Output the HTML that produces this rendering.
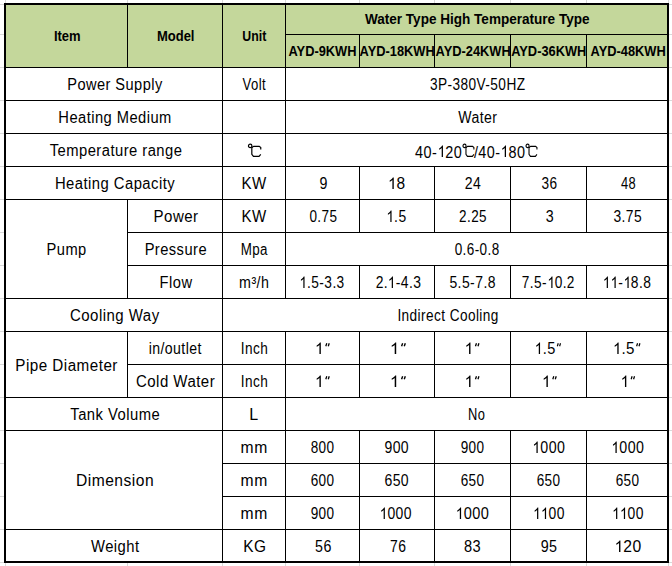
<!DOCTYPE html>
<html><head><meta charset="utf-8"><style>
html,body{margin:0;padding:0;background:#fff;}
body{width:672px;height:566px;position:relative;overflow:hidden;font-family:"Liberation Sans",sans-serif;color:#000;}
div{position:absolute;}
.c{display:flex;align-items:center;justify-content:center;white-space:nowrap;overflow:hidden;line-height:1;}
.c span{transform-origin:50% 50%;}
svg{fill:none;stroke:#000;overflow:visible;}
.dg{stroke-width:1.2;vertical-align:-0.5px;margin:0 -0.5px;}
.one{fill:#000;stroke:none;vertical-align:0;}
.in{stroke-width:1.3;vertical-align:0;margin-left:1px;}
</style></head><body>
<div style="left:4px;top:3px;width:665px;height:64px;background:#C4D79B"></div>
<div style="left:0px;top:4px;width:4px;height:1px;background:#D9D9D9"></div>
<div style="left:669px;top:4px;width:3px;height:1px;background:#D9D9D9"></div>
<div style="left:0px;top:34px;width:4px;height:1px;background:#D9D9D9"></div>
<div style="left:669px;top:34px;width:3px;height:1px;background:#D9D9D9"></div>
<div style="left:0px;top:67px;width:4px;height:1px;background:#D9D9D9"></div>
<div style="left:669px;top:67px;width:3px;height:1px;background:#D9D9D9"></div>
<div style="left:0px;top:100px;width:4px;height:1px;background:#D9D9D9"></div>
<div style="left:669px;top:100px;width:3px;height:1px;background:#D9D9D9"></div>
<div style="left:0px;top:133px;width:4px;height:1px;background:#D9D9D9"></div>
<div style="left:669px;top:133px;width:3px;height:1px;background:#D9D9D9"></div>
<div style="left:0px;top:166px;width:4px;height:1px;background:#D9D9D9"></div>
<div style="left:669px;top:166px;width:3px;height:1px;background:#D9D9D9"></div>
<div style="left:0px;top:199px;width:4px;height:1px;background:#D9D9D9"></div>
<div style="left:669px;top:199px;width:3px;height:1px;background:#D9D9D9"></div>
<div style="left:0px;top:232px;width:4px;height:1px;background:#D9D9D9"></div>
<div style="left:669px;top:232px;width:3px;height:1px;background:#D9D9D9"></div>
<div style="left:0px;top:265px;width:4px;height:1px;background:#D9D9D9"></div>
<div style="left:669px;top:265px;width:3px;height:1px;background:#D9D9D9"></div>
<div style="left:0px;top:298px;width:4px;height:1px;background:#D9D9D9"></div>
<div style="left:669px;top:298px;width:3px;height:1px;background:#D9D9D9"></div>
<div style="left:0px;top:331px;width:4px;height:1px;background:#D9D9D9"></div>
<div style="left:669px;top:331px;width:3px;height:1px;background:#D9D9D9"></div>
<div style="left:0px;top:364px;width:4px;height:1px;background:#D9D9D9"></div>
<div style="left:669px;top:364px;width:3px;height:1px;background:#D9D9D9"></div>
<div style="left:0px;top:397px;width:4px;height:1px;background:#D9D9D9"></div>
<div style="left:669px;top:397px;width:3px;height:1px;background:#D9D9D9"></div>
<div style="left:0px;top:430px;width:4px;height:1px;background:#D9D9D9"></div>
<div style="left:669px;top:430px;width:3px;height:1px;background:#D9D9D9"></div>
<div style="left:0px;top:463px;width:4px;height:1px;background:#D9D9D9"></div>
<div style="left:669px;top:463px;width:3px;height:1px;background:#D9D9D9"></div>
<div style="left:0px;top:496px;width:4px;height:1px;background:#D9D9D9"></div>
<div style="left:669px;top:496px;width:3px;height:1px;background:#D9D9D9"></div>
<div style="left:0px;top:529px;width:4px;height:1px;background:#D9D9D9"></div>
<div style="left:669px;top:529px;width:3px;height:1px;background:#D9D9D9"></div>
<div style="left:0px;top:562px;width:4px;height:1px;background:#D9D9D9"></div>
<div style="left:669px;top:562px;width:3px;height:1px;background:#D9D9D9"></div>
<div style="left:5px;top:0px;width:1px;height:3px;background:#D9D9D9"></div>
<div style="left:5px;top:563px;width:1px;height:3px;background:#D9D9D9"></div>
<div style="left:127px;top:0px;width:1px;height:3px;background:#D9D9D9"></div>
<div style="left:127px;top:563px;width:1px;height:3px;background:#D9D9D9"></div>
<div style="left:222px;top:0px;width:1px;height:3px;background:#D9D9D9"></div>
<div style="left:222px;top:563px;width:1px;height:3px;background:#D9D9D9"></div>
<div style="left:285px;top:0px;width:1px;height:3px;background:#D9D9D9"></div>
<div style="left:285px;top:563px;width:1px;height:3px;background:#D9D9D9"></div>
<div style="left:359px;top:0px;width:1px;height:3px;background:#D9D9D9"></div>
<div style="left:359px;top:563px;width:1px;height:3px;background:#D9D9D9"></div>
<div style="left:434px;top:0px;width:1px;height:3px;background:#D9D9D9"></div>
<div style="left:434px;top:563px;width:1px;height:3px;background:#D9D9D9"></div>
<div style="left:510px;top:0px;width:1px;height:3px;background:#D9D9D9"></div>
<div style="left:510px;top:563px;width:1px;height:3px;background:#D9D9D9"></div>
<div style="left:586px;top:0px;width:1px;height:3px;background:#D9D9D9"></div>
<div style="left:586px;top:563px;width:1px;height:3px;background:#D9D9D9"></div>
<div style="left:668px;top:0px;width:1px;height:3px;background:#D9D9D9"></div>
<div style="left:668px;top:563px;width:1px;height:3px;background:#D9D9D9"></div>
<div class="c" style="left:5px;top:4px;width:122px;height:63px;font-size:14.0px;font-weight:bold;"><span style="display:inline-block;transform:translate(0.85px,-0.50px) scaleX(0.9286)">Item</span></div>
<div class="c" style="left:128px;top:4px;width:94px;height:63px;font-size:14.0px;font-weight:bold;"><span style="display:inline-block;transform:translate(0.50px,-0.50px) scaleX(0.9275)">Model</span></div>
<div class="c" style="left:223px;top:4px;width:62px;height:63px;font-size:14.0px;font-weight:bold;"><span style="display:inline-block;transform:translate(0.65px,-0.50px) scaleX(0.8815)">Unit</span></div>
<div class="c" style="left:286px;top:4px;width:382px;height:30px;font-size:14.0px;font-weight:bold;"><span style="display:inline-block;transform:translate(0.20px,-0.50px) scaleX(0.9677)">Water Type High Temperature Type</span></div>
<div class="c" style="left:286px;top:35px;width:73px;height:32px;font-size:14.0px;font-weight:bold;"><span style="display:inline-block;transform:translate(0.40px,-0.50px) scaleX(0.9170)">AYD-9KWH</span></div>
<div class="c" style="left:360px;top:35px;width:74px;height:32px;font-size:14.0px;font-weight:bold;"><span style="display:inline-block;transform:translate(0.20px,-0.50px) scaleX(0.9170)">AYD-18KWH</span></div>
<div class="c" style="left:435px;top:35px;width:75px;height:32px;font-size:14.0px;font-weight:bold;"><span style="display:inline-block;transform:translate(0.20px,-0.50px) scaleX(0.9170)">AYD-24KWH</span></div>
<div class="c" style="left:511px;top:35px;width:75px;height:32px;font-size:14.0px;font-weight:bold;"><span style="display:inline-block;transform:translate(-0.20px,-0.50px) scaleX(0.9170)">AYD-36KWH</span></div>
<div class="c" style="left:587px;top:35px;width:81px;height:32px;font-size:14.0px;font-weight:bold;"><span style="display:inline-block;transform:translate(0.20px,-0.50px) scaleX(0.9170)">AYD-48KWH</span></div>
<div class="c" style="left:5px;top:68px;width:217px;height:32px;font-size:16.0px;letter-spacing:0.5px;"><span style="display:inline-block;transform:translate(1.60px,1.00px) scaleX(0.9117)">Power Supply</span></div>
<div class="c" style="left:223px;top:68px;width:62px;height:32px;font-size:16.0px;letter-spacing:0.5px;"><span style="display:inline-block;transform:translate(0.00px,1.00px) scaleX(0.8179)">Volt</span></div>
<div class="c" style="left:286px;top:68px;width:382px;height:32px;font-size:16.0px;letter-spacing:0.5px;"><span style="display:inline-block;transform:translate(0.80px,1.00px) scaleX(0.8536)">3P-380V-50HZ</span></div>
<div class="c" style="left:5px;top:101px;width:217px;height:32px;font-size:16.0px;letter-spacing:0.5px;"><span style="display:inline-block;transform:translate(1.30px,1.00px) scaleX(0.9182)">Heating Medium</span></div>
<div class="c" style="left:286px;top:101px;width:382px;height:32px;font-size:16.0px;letter-spacing:0.5px;"><span style="display:inline-block;transform:translate(0.50px,1.00px) scaleX(0.8795)">Water</span></div>
<div class="c" style="left:5px;top:134px;width:217px;height:32px;font-size:16.0px;letter-spacing:0.5px;"><span style="display:inline-block;transform:translate(2.20px,1.00px) scaleX(0.9232)">Temperature range</span></div>
<div class="c" style="left:223px;top:134px;width:62px;height:32px;font-size:16.0px;letter-spacing:0.5px;"><span style="display:inline-block;transform:translate(-0.65px,1.00px) scaleX(1.0154)"><svg class="dg" width="14" height="16" viewBox="0 0 14 16"><circle cx="2.9" cy="3.9" r="1.7"/><path d="M6 4.3 L4.5 5.8 V12.3 L6.1 14.3 H11.6 L13.3 12.3 M6 4.3 H11.8 L13.3 5.5 V7.4"/></svg></span></div>
<div class="c" style="left:286px;top:134px;width:382px;height:32px;font-size:16.0px;letter-spacing:0.5px;"><span style="display:inline-block;transform:translate(-0.65px,1.00px) scaleX(0.9007)">40-<svg class="one" width="8.9" height="12" viewBox="0 0 8.9 12"><path d="M5.96 12 H4.55 V3.04 Q4.05 3.52 3.22 4.01 Q2.39 4.49 1.73 4.73 V3.38 Q2.91 2.82 3.80 2.03 Q4.68 1.24 5.05 0.55 H5.96 Z"/></svg>20<svg class="dg" width="14" height="16" viewBox="0 0 14 16"><circle cx="2.9" cy="3.9" r="1.7"/><path d="M6 4.3 L4.5 5.8 V12.3 L6.1 14.3 H11.6 L13.3 12.3 M6 4.3 H11.8 L13.3 5.5 V7.4"/></svg>/40-<svg class="one" width="8.9" height="12" viewBox="0 0 8.9 12"><path d="M5.96 12 H4.55 V3.04 Q4.05 3.52 3.22 4.01 Q2.39 4.49 1.73 4.73 V3.38 Q2.91 2.82 3.80 2.03 Q4.68 1.24 5.05 0.55 H5.96 Z"/></svg>80<svg class="dg" width="14" height="16" viewBox="0 0 14 16"><circle cx="2.9" cy="3.9" r="1.7"/><path d="M6 4.3 L4.5 5.8 V12.3 L6.1 14.3 H11.6 L13.3 12.3 M6 4.3 H11.8 L13.3 5.5 V7.4"/></svg></span></div>
<div class="c" style="left:5px;top:167px;width:217px;height:32px;font-size:16.0px;letter-spacing:0.5px;"><span style="display:inline-block;transform:translate(1.10px,1.00px) scaleX(0.9258)">Heating Capacity</span></div>
<div class="c" style="left:223px;top:167px;width:62px;height:32px;font-size:16.0px;letter-spacing:0.5px;"><span style="display:inline-block;transform:translate(-0.20px,1.00px) scaleX(0.9400)">KW</span></div>
<div class="c" style="left:286px;top:167px;width:73px;height:32px;font-size:16.0px;letter-spacing:0.5px;"><span style="display:inline-block;transform:translate(1.00px,1.00px) scaleX(0.8900)">9</span></div>
<div class="c" style="left:360px;top:167px;width:74px;height:32px;font-size:16.0px;letter-spacing:0.5px;"><span style="display:inline-block;transform:translate(-0.30px,1.00px) scaleX(0.9667)"><svg class="one" width="8.9" height="12" viewBox="0 0 8.9 12"><path d="M5.96 12 H4.55 V3.04 Q4.05 3.52 3.22 4.01 Q2.39 4.49 1.73 4.73 V3.38 Q2.91 2.82 3.80 2.03 Q4.68 1.24 5.05 0.55 H5.96 Z"/></svg>8</span></div>
<div class="c" style="left:435px;top:167px;width:75px;height:32px;font-size:16.0px;letter-spacing:0.5px;"><span style="display:inline-block;transform:translate(0.50px,1.00px) scaleX(0.8765)">24</span></div>
<div class="c" style="left:511px;top:167px;width:75px;height:32px;font-size:16.0px;letter-spacing:0.5px;"><span style="display:inline-block;transform:translate(1.00px,1.00px) scaleX(0.8529)">36</span></div>
<div class="c" style="left:587px;top:167px;width:81px;height:32px;font-size:16.0px;letter-spacing:0.5px;"><span style="display:inline-block;transform:translate(1.20px,1.00px) scaleX(0.8056)">48</span></div>
<div class="c" style="left:5px;top:200px;width:122px;height:98px;font-size:16.0px;letter-spacing:0.5px;"><span style="display:inline-block;transform:translate(0.70px,1.00px) scaleX(0.9167)">Pump</span></div>
<div class="c" style="left:128px;top:200px;width:94px;height:32px;font-size:16.0px;letter-spacing:0.5px;"><span style="display:inline-block;transform:translate(1.15px,1.00px) scaleX(0.9391)">Power</span></div>
<div class="c" style="left:223px;top:200px;width:62px;height:32px;font-size:16.0px;letter-spacing:0.5px;"><span style="display:inline-block;transform:translate(-0.20px,1.00px) scaleX(0.9400)">KW</span></div>
<div class="c" style="left:286px;top:200px;width:73px;height:32px;font-size:16.0px;letter-spacing:0.5px;"><span style="display:inline-block;transform:translate(0.85px,1.00px) scaleX(0.8452)">0.75</span></div>
<div class="c" style="left:360px;top:200px;width:74px;height:32px;font-size:16.0px;letter-spacing:0.5px;"><span style="display:inline-block;transform:translate(-0.15px,1.00px) scaleX(0.8667)"><svg class="one" width="8.9" height="12" viewBox="0 0 8.9 12"><path d="M5.96 12 H4.55 V3.04 Q4.05 3.52 3.22 4.01 Q2.39 4.49 1.73 4.73 V3.38 Q2.91 2.82 3.80 2.03 Q4.68 1.24 5.05 0.55 H5.96 Z"/></svg>.5</span></div>
<div class="c" style="left:435px;top:200px;width:75px;height:32px;font-size:16.0px;letter-spacing:0.5px;"><span style="display:inline-block;transform:translate(0.50px,1.00px) scaleX(0.8419)">2.25</span></div>
<div class="c" style="left:511px;top:200px;width:75px;height:32px;font-size:16.0px;letter-spacing:0.5px;"><span style="display:inline-block;transform:translate(1.15px,1.00px) scaleX(0.8900)">3</span></div>
<div class="c" style="left:587px;top:200px;width:81px;height:32px;font-size:16.0px;letter-spacing:0.5px;"><span style="display:inline-block;transform:translate(0.15px,1.00px) scaleX(0.8645)">3.75</span></div>
<div class="c" style="left:128px;top:233px;width:94px;height:32px;font-size:16.0px;letter-spacing:0.5px;"><span style="display:inline-block;transform:translate(0.80px,1.00px) scaleX(0.9167)">Pressure</span></div>
<div class="c" style="left:223px;top:233px;width:62px;height:32px;font-size:16.0px;letter-spacing:0.5px;"><span style="display:inline-block;transform:translate(0.00px,1.00px) scaleX(0.8355)">Mpa</span></div>
<div class="c" style="left:286px;top:233px;width:382px;height:32px;font-size:16.0px;letter-spacing:0.5px;"><span style="display:inline-block;transform:translate(0.50px,1.00px) scaleX(0.8442)">0.6-0.8</span></div>
<div class="c" style="left:128px;top:266px;width:94px;height:32px;font-size:16.0px;letter-spacing:0.5px;"><span style="display:inline-block;transform:translate(1.15px,1.00px) scaleX(0.9176)">Flow</span></div>
<div class="c" style="left:223px;top:266px;width:62px;height:32px;font-size:16.0px;letter-spacing:0.5px;"><span style="display:inline-block;transform:translate(0.20px,1.00px) scaleX(0.8906)">m³/h</span></div>
<div class="c" style="left:286px;top:266px;width:73px;height:32px;font-size:16.0px;letter-spacing:0.5px;"><span style="display:inline-block;transform:translate(-0.35px,1.00px) scaleX(0.8560)"><svg class="one" width="8.9" height="12" viewBox="0 0 8.9 12"><path d="M5.96 12 H4.55 V3.04 Q4.05 3.52 3.22 4.01 Q2.39 4.49 1.73 4.73 V3.38 Q2.91 2.82 3.80 2.03 Q4.68 1.24 5.05 0.55 H5.96 Z"/></svg>.5-3.3</span></div>
<div class="c" style="left:360px;top:266px;width:74px;height:32px;font-size:16.0px;letter-spacing:0.5px;"><span style="display:inline-block;transform:translate(1.15px,1.00px) scaleX(0.8667)">2.<svg class="one" width="8.9" height="12" viewBox="0 0 8.9 12"><path d="M5.96 12 H4.55 V3.04 Q4.05 3.52 3.22 4.01 Q2.39 4.49 1.73 4.73 V3.38 Q2.91 2.82 3.80 2.03 Q4.68 1.24 5.05 0.55 H5.96 Z"/></svg>-4.3</span></div>
<div class="c" style="left:435px;top:266px;width:75px;height:32px;font-size:16.0px;letter-spacing:0.5px;"><span style="display:inline-block;transform:translate(0.00px,1.00px) scaleX(0.8725)">5.5-7.8</span></div>
<div class="c" style="left:511px;top:266px;width:75px;height:32px;font-size:16.0px;letter-spacing:0.5px;"><span style="display:inline-block;transform:translate(0.25px,1.00px) scaleX(0.8525)">7.5-<svg class="one" width="8.9" height="12" viewBox="0 0 8.9 12"><path d="M5.96 12 H4.55 V3.04 Q4.05 3.52 3.22 4.01 Q2.39 4.49 1.73 4.73 V3.38 Q2.91 2.82 3.80 2.03 Q4.68 1.24 5.05 0.55 H5.96 Z"/></svg>0.2</span></div>
<div class="c" style="left:587px;top:266px;width:81px;height:32px;font-size:16.0px;letter-spacing:0.5px;"><span style="display:inline-block;transform:translate(-0.05px,1.00px) scaleX(0.8630)"><svg class="one" width="8.9" height="12" viewBox="0 0 8.9 12"><path d="M5.96 12 H4.55 V3.04 Q4.05 3.52 3.22 4.01 Q2.39 4.49 1.73 4.73 V3.38 Q2.91 2.82 3.80 2.03 Q4.68 1.24 5.05 0.55 H5.96 Z"/></svg><svg class="one" width="8.9" height="12" viewBox="0 0 8.9 12"><path d="M5.96 12 H4.55 V3.04 Q4.05 3.52 3.22 4.01 Q2.39 4.49 1.73 4.73 V3.38 Q2.91 2.82 3.80 2.03 Q4.68 1.24 5.05 0.55 H5.96 Z"/></svg>-<svg class="one" width="8.9" height="12" viewBox="0 0 8.9 12"><path d="M5.96 12 H4.55 V3.04 Q4.05 3.52 3.22 4.01 Q2.39 4.49 1.73 4.73 V3.38 Q2.91 2.82 3.80 2.03 Q4.68 1.24 5.05 0.55 H5.96 Z"/></svg>8.8</span></div>
<div class="c" style="left:5px;top:299px;width:217px;height:32px;font-size:16.0px;letter-spacing:0.5px;"><span style="display:inline-block;transform:translate(1.00px,1.00px) scaleX(0.9372)">Cooling Way</span></div>
<div class="c" style="left:223px;top:299px;width:445px;height:32px;font-size:16.0px;letter-spacing:0.5px;"><span style="display:inline-block;transform:translate(2.50px,1.00px) scaleX(0.8504)">Indirect Cooling</span></div>
<div class="c" style="left:5px;top:332px;width:122px;height:65px;font-size:16.0px;letter-spacing:0.5px;"><span style="display:inline-block;transform:translate(0.65px,1.00px) scaleX(0.9509)">Pipe Diameter</span></div>
<div class="c" style="left:128px;top:332px;width:94px;height:32px;font-size:16.0px;letter-spacing:0.5px;"><span style="display:inline-block;transform:translate(0.00px,1.00px) scaleX(0.8797)">in/outlet</span></div>
<div class="c" style="left:223px;top:332px;width:62px;height:32px;font-size:16.0px;letter-spacing:0.5px;"><span style="display:inline-block;transform:translate(0.30px,1.00px) scaleX(0.8500)">Inch</span></div>
<div class="c" style="left:286px;top:332px;width:73px;height:32px;font-size:16.0px;letter-spacing:0.5px;"><span style="display:inline-block;transform:translate(-0.15px,1.00px) scaleX(0.9846)"><svg class="one" width="8.9" height="12" viewBox="0 0 8.9 12"><path d="M5.96 12 H4.55 V3.04 Q4.05 3.52 3.22 4.01 Q2.39 4.49 1.73 4.73 V3.38 Q2.91 2.82 3.80 2.03 Q4.68 1.24 5.05 0.55 H5.96 Z"/></svg><svg class="in" width="5" height="11" viewBox="0 0 5 11"><path d="M2 0.3 L1 3.3 M4.5 0.3 L3.5 3.3"/></svg></span></div>
<div class="c" style="left:360px;top:332px;width:74px;height:32px;font-size:16.0px;letter-spacing:0.5px;"><span style="display:inline-block;transform:translate(0.35px,1.00px) scaleX(1.0667)"><svg class="one" width="8.9" height="12" viewBox="0 0 8.9 12"><path d="M5.96 12 H4.55 V3.04 Q4.05 3.52 3.22 4.01 Q2.39 4.49 1.73 4.73 V3.38 Q2.91 2.82 3.80 2.03 Q4.68 1.24 5.05 0.55 H5.96 Z"/></svg><svg class="in" width="5" height="11" viewBox="0 0 5 11"><path d="M2 0.3 L1 3.3 M4.5 0.3 L3.5 3.3"/></svg></span></div>
<div class="c" style="left:435px;top:332px;width:75px;height:32px;font-size:16.0px;letter-spacing:0.5px;"><span style="display:inline-block;transform:translate(-0.50px,1.00px) scaleX(0.9923)"><svg class="one" width="8.9" height="12" viewBox="0 0 8.9 12"><path d="M5.96 12 H4.55 V3.04 Q4.05 3.52 3.22 4.01 Q2.39 4.49 1.73 4.73 V3.38 Q2.91 2.82 3.80 2.03 Q4.68 1.24 5.05 0.55 H5.96 Z"/></svg><svg class="in" width="5" height="11" viewBox="0 0 5 11"><path d="M2 0.3 L1 3.3 M4.5 0.3 L3.5 3.3"/></svg></span></div>
<div class="c" style="left:511px;top:332px;width:75px;height:32px;font-size:16.0px;letter-spacing:0.5px;"><span style="display:inline-block;transform:translate(-0.70px,1.00px) scaleX(0.9074)"><svg class="one" width="8.9" height="12" viewBox="0 0 8.9 12"><path d="M5.96 12 H4.55 V3.04 Q4.05 3.52 3.22 4.01 Q2.39 4.49 1.73 4.73 V3.38 Q2.91 2.82 3.80 2.03 Q4.68 1.24 5.05 0.55 H5.96 Z"/></svg>.5<svg class="in" width="5" height="11" viewBox="0 0 5 11"><path d="M2 0.3 L1 3.3 M4.5 0.3 L3.5 3.3"/></svg></span></div>
<div class="c" style="left:587px;top:332px;width:81px;height:32px;font-size:16.0px;letter-spacing:0.5px;"><span style="display:inline-block;transform:translate(-0.80px,1.00px) scaleX(0.9444)"><svg class="one" width="8.9" height="12" viewBox="0 0 8.9 12"><path d="M5.96 12 H4.55 V3.04 Q4.05 3.52 3.22 4.01 Q2.39 4.49 1.73 4.73 V3.38 Q2.91 2.82 3.80 2.03 Q4.68 1.24 5.05 0.55 H5.96 Z"/></svg>.5<svg class="in" width="5" height="11" viewBox="0 0 5 11"><path d="M2 0.3 L1 3.3 M4.5 0.3 L3.5 3.3"/></svg></span></div>
<div class="c" style="left:128px;top:365px;width:94px;height:32px;font-size:16.0px;letter-spacing:0.5px;"><span style="display:inline-block;transform:translate(0.35px,1.00px) scaleX(0.9373)">Cold Water</span></div>
<div class="c" style="left:223px;top:365px;width:62px;height:32px;font-size:16.0px;letter-spacing:0.5px;"><span style="display:inline-block;transform:translate(0.30px,1.00px) scaleX(0.8500)">Inch</span></div>
<div class="c" style="left:286px;top:365px;width:73px;height:32px;font-size:16.0px;letter-spacing:0.5px;"><span style="display:inline-block;transform:translate(-0.15px,1.00px) scaleX(0.9846)"><svg class="one" width="8.9" height="12" viewBox="0 0 8.9 12"><path d="M5.96 12 H4.55 V3.04 Q4.05 3.52 3.22 4.01 Q2.39 4.49 1.73 4.73 V3.38 Q2.91 2.82 3.80 2.03 Q4.68 1.24 5.05 0.55 H5.96 Z"/></svg><svg class="in" width="5" height="11" viewBox="0 0 5 11"><path d="M2 0.3 L1 3.3 M4.5 0.3 L3.5 3.3"/></svg></span></div>
<div class="c" style="left:360px;top:365px;width:74px;height:32px;font-size:16.0px;letter-spacing:0.5px;"><span style="display:inline-block;transform:translate(0.35px,1.00px) scaleX(1.0667)"><svg class="one" width="8.9" height="12" viewBox="0 0 8.9 12"><path d="M5.96 12 H4.55 V3.04 Q4.05 3.52 3.22 4.01 Q2.39 4.49 1.73 4.73 V3.38 Q2.91 2.82 3.80 2.03 Q4.68 1.24 5.05 0.55 H5.96 Z"/></svg><svg class="in" width="5" height="11" viewBox="0 0 5 11"><path d="M2 0.3 L1 3.3 M4.5 0.3 L3.5 3.3"/></svg></span></div>
<div class="c" style="left:435px;top:365px;width:75px;height:32px;font-size:16.0px;letter-spacing:0.5px;"><span style="display:inline-block;transform:translate(-0.50px,1.00px) scaleX(0.9923)"><svg class="one" width="8.9" height="12" viewBox="0 0 8.9 12"><path d="M5.96 12 H4.55 V3.04 Q4.05 3.52 3.22 4.01 Q2.39 4.49 1.73 4.73 V3.38 Q2.91 2.82 3.80 2.03 Q4.68 1.24 5.05 0.55 H5.96 Z"/></svg><svg class="in" width="5" height="11" viewBox="0 0 5 11"><path d="M2 0.3 L1 3.3 M4.5 0.3 L3.5 3.3"/></svg></span></div>
<div class="c" style="left:511px;top:365px;width:75px;height:32px;font-size:16.0px;letter-spacing:0.5px;"><span style="display:inline-block;transform:translate(0.85px,1.00px) scaleX(0.9846)"><svg class="one" width="8.9" height="12" viewBox="0 0 8.9 12"><path d="M5.96 12 H4.55 V3.04 Q4.05 3.52 3.22 4.01 Q2.39 4.49 1.73 4.73 V3.38 Q2.91 2.82 3.80 2.03 Q4.68 1.24 5.05 0.55 H5.96 Z"/></svg><svg class="in" width="5" height="11" viewBox="0 0 5 11"><path d="M2 0.3 L1 3.3 M4.5 0.3 L3.5 3.3"/></svg></span></div>
<div class="c" style="left:587px;top:365px;width:81px;height:32px;font-size:16.0px;letter-spacing:0.5px;"><span style="display:inline-block;transform:translate(0.30px,1.00px) scaleX(0.9615)"><svg class="one" width="8.9" height="12" viewBox="0 0 8.9 12"><path d="M5.96 12 H4.55 V3.04 Q4.05 3.52 3.22 4.01 Q2.39 4.49 1.73 4.73 V3.38 Q2.91 2.82 3.80 2.03 Q4.68 1.24 5.05 0.55 H5.96 Z"/></svg><svg class="in" width="5" height="11" viewBox="0 0 5 11"><path d="M2 0.3 L1 3.3 M4.5 0.3 L3.5 3.3"/></svg></span></div>
<div class="c" style="left:5px;top:398px;width:217px;height:32px;font-size:16.0px;letter-spacing:0.5px;"><span style="display:inline-block;transform:translate(1.65px,1.00px) scaleX(0.9250)">Tank Volume</span></div>
<div class="c" style="left:223px;top:398px;width:62px;height:32px;font-size:16.0px;letter-spacing:0.5px;"><span style="display:inline-block;transform:translate(0.00px,1.00px) scaleX(1.0000)">L</span></div>
<div class="c" style="left:286px;top:398px;width:382px;height:32px;font-size:16.0px;letter-spacing:0.5px;"><span style="display:inline-block;transform:translate(0.00px,1.00px) scaleX(0.8050)">No</span></div>
<div class="c" style="left:5px;top:431px;width:217px;height:98px;font-size:16.0px;letter-spacing:0.5px;"><span style="display:inline-block;transform:translate(2.00px,1.00px) scaleX(0.9753)">Dimension</span></div>
<div class="c" style="left:223px;top:431px;width:62px;height:32px;font-size:16.0px;letter-spacing:0.5px;"><span style="display:inline-block;transform:translate(0.30px,1.00px) scaleX(0.9808)">mm</span></div>
<div class="c" style="left:286px;top:431px;width:73px;height:32px;font-size:16.0px;letter-spacing:0.5px;"><span style="display:inline-block;transform:translate(0.50px,1.00px) scaleX(0.8481)">800</span></div>
<div class="c" style="left:360px;top:431px;width:74px;height:32px;font-size:16.0px;letter-spacing:0.5px;"><span style="display:inline-block;transform:translate(-0.35px,1.00px) scaleX(0.8769)">900</span></div>
<div class="c" style="left:435px;top:431px;width:75px;height:32px;font-size:16.0px;letter-spacing:0.5px;"><span style="display:inline-block;transform:translate(0.50px,1.00px) scaleX(0.8481)">900</span></div>
<div class="c" style="left:511px;top:431px;width:75px;height:32px;font-size:16.0px;letter-spacing:0.5px;"><span style="display:inline-block;transform:translate(0.35px,1.00px) scaleX(0.8882)"><svg class="one" width="8.9" height="12" viewBox="0 0 8.9 12"><path d="M5.96 12 H4.55 V3.04 Q4.05 3.52 3.22 4.01 Q2.39 4.49 1.73 4.73 V3.38 Q2.91 2.82 3.80 2.03 Q4.68 1.24 5.05 0.55 H5.96 Z"/></svg>000</span></div>
<div class="c" style="left:587px;top:431px;width:81px;height:32px;font-size:16.0px;letter-spacing:0.5px;"><span style="display:inline-block;transform:translate(0.35px,1.00px) scaleX(0.8882)"><svg class="one" width="8.9" height="12" viewBox="0 0 8.9 12"><path d="M5.96 12 H4.55 V3.04 Q4.05 3.52 3.22 4.01 Q2.39 4.49 1.73 4.73 V3.38 Q2.91 2.82 3.80 2.03 Q4.68 1.24 5.05 0.55 H5.96 Z"/></svg>000</span></div>
<div class="c" style="left:223px;top:464px;width:62px;height:32px;font-size:16.0px;letter-spacing:0.5px;"><span style="display:inline-block;transform:translate(0.30px,1.00px) scaleX(0.9808)">mm</span></div>
<div class="c" style="left:286px;top:464px;width:73px;height:32px;font-size:16.0px;letter-spacing:0.5px;"><span style="display:inline-block;transform:translate(0.50px,1.00px) scaleX(0.8481)">600</span></div>
<div class="c" style="left:360px;top:464px;width:74px;height:32px;font-size:16.0px;letter-spacing:0.5px;"><span style="display:inline-block;transform:translate(-0.35px,1.00px) scaleX(0.8769)">650</span></div>
<div class="c" style="left:435px;top:464px;width:75px;height:32px;font-size:16.0px;letter-spacing:0.5px;"><span style="display:inline-block;transform:translate(0.50px,1.00px) scaleX(0.8481)">650</span></div>
<div class="c" style="left:511px;top:464px;width:75px;height:32px;font-size:16.0px;letter-spacing:0.5px;"><span style="display:inline-block;transform:translate(0.50px,1.00px) scaleX(0.8481)">650</span></div>
<div class="c" style="left:587px;top:464px;width:81px;height:32px;font-size:16.0px;letter-spacing:0.5px;"><span style="display:inline-block;transform:translate(0.50px,1.00px) scaleX(0.8481)">650</span></div>
<div class="c" style="left:223px;top:497px;width:62px;height:32px;font-size:16.0px;letter-spacing:0.5px;"><span style="display:inline-block;transform:translate(0.30px,1.00px) scaleX(0.9808)">mm</span></div>
<div class="c" style="left:286px;top:497px;width:73px;height:32px;font-size:16.0px;letter-spacing:0.5px;"><span style="display:inline-block;transform:translate(0.50px,1.00px) scaleX(0.8481)">900</span></div>
<div class="c" style="left:360px;top:497px;width:74px;height:32px;font-size:16.0px;letter-spacing:0.5px;"><span style="display:inline-block;transform:translate(-0.70px,1.00px) scaleX(0.8714)"><svg class="one" width="8.9" height="12" viewBox="0 0 8.9 12"><path d="M5.96 12 H4.55 V3.04 Q4.05 3.52 3.22 4.01 Q2.39 4.49 1.73 4.73 V3.38 Q2.91 2.82 3.80 2.03 Q4.68 1.24 5.05 0.55 H5.96 Z"/></svg>000</span></div>
<div class="c" style="left:435px;top:497px;width:75px;height:32px;font-size:16.0px;letter-spacing:0.5px;"><span style="display:inline-block;transform:translate(0.00px,1.00px) scaleX(0.9088)"><svg class="one" width="8.9" height="12" viewBox="0 0 8.9 12"><path d="M5.96 12 H4.55 V3.04 Q4.05 3.52 3.22 4.01 Q2.39 4.49 1.73 4.73 V3.38 Q2.91 2.82 3.80 2.03 Q4.68 1.24 5.05 0.55 H5.96 Z"/></svg>000</span></div>
<div class="c" style="left:511px;top:497px;width:75px;height:32px;font-size:16.0px;letter-spacing:0.5px;"><span style="display:inline-block;transform:translate(0.70px,1.00px) scaleX(0.8676)"><svg class="one" width="8.9" height="12" viewBox="0 0 8.9 12"><path d="M5.96 12 H4.55 V3.04 Q4.05 3.52 3.22 4.01 Q2.39 4.49 1.73 4.73 V3.38 Q2.91 2.82 3.80 2.03 Q4.68 1.24 5.05 0.55 H5.96 Z"/></svg><svg class="one" width="8.9" height="12" viewBox="0 0 8.9 12"><path d="M5.96 12 H4.55 V3.04 Q4.05 3.52 3.22 4.01 Q2.39 4.49 1.73 4.73 V3.38 Q2.91 2.82 3.80 2.03 Q4.68 1.24 5.05 0.55 H5.96 Z"/></svg>00</span></div>
<div class="c" style="left:587px;top:497px;width:81px;height:32px;font-size:16.0px;letter-spacing:0.5px;"><span style="display:inline-block;transform:translate(0.70px,1.00px) scaleX(0.8676)"><svg class="one" width="8.9" height="12" viewBox="0 0 8.9 12"><path d="M5.96 12 H4.55 V3.04 Q4.05 3.52 3.22 4.01 Q2.39 4.49 1.73 4.73 V3.38 Q2.91 2.82 3.80 2.03 Q4.68 1.24 5.05 0.55 H5.96 Z"/></svg><svg class="one" width="8.9" height="12" viewBox="0 0 8.9 12"><path d="M5.96 12 H4.55 V3.04 Q4.05 3.52 3.22 4.01 Q2.39 4.49 1.73 4.73 V3.38 Q2.91 2.82 3.80 2.03 Q4.68 1.24 5.05 0.55 H5.96 Z"/></svg>00</span></div>
<div class="c" style="left:5px;top:530px;width:217px;height:32px;font-size:16.0px;letter-spacing:0.5px;"><span style="display:inline-block;transform:translate(2.00px,1.00px) scaleX(0.9250)">Weight</span></div>
<div class="c" style="left:223px;top:530px;width:62px;height:32px;font-size:16.0px;letter-spacing:0.5px;"><span style="display:inline-block;transform:translate(0.85px,1.00px) scaleX(0.9619)">KG</span></div>
<div class="c" style="left:286px;top:530px;width:73px;height:32px;font-size:16.0px;letter-spacing:0.5px;"><span style="display:inline-block;transform:translate(1.00px,1.00px) scaleX(0.8882)">56</span></div>
<div class="c" style="left:360px;top:530px;width:74px;height:32px;font-size:16.0px;letter-spacing:0.5px;"><span style="display:inline-block;transform:translate(0.85px,1.00px) scaleX(0.8706)">76</span></div>
<div class="c" style="left:435px;top:530px;width:75px;height:32px;font-size:16.0px;letter-spacing:0.5px;"><span style="display:inline-block;transform:translate(0.20px,1.00px) scaleX(0.9118)">83</span></div>
<div class="c" style="left:511px;top:530px;width:75px;height:32px;font-size:16.0px;letter-spacing:0.5px;"><span style="display:inline-block;transform:translate(0.65px,1.00px) scaleX(0.8941)">95</span></div>
<div class="c" style="left:587px;top:530px;width:81px;height:32px;font-size:16.0px;letter-spacing:0.5px;"><span style="display:inline-block;transform:translate(0.30px,1.00px) scaleX(0.9792)"><svg class="one" width="8.9" height="12" viewBox="0 0 8.9 12"><path d="M5.96 12 H4.55 V3.04 Q4.05 3.52 3.22 4.01 Q2.39 4.49 1.73 4.73 V3.38 Q2.91 2.82 3.80 2.03 Q4.68 1.24 5.05 0.55 H5.96 Z"/></svg>20</span></div>
<div style="left:4px;top:3px;width:124px;height:1px;background:#000"></div>
<div style="left:4px;top:67px;width:124px;height:1px;background:#000"></div>
<div style="left:4px;top:3px;width:1px;height:65px;background:#000"></div>
<div style="left:127px;top:3px;width:1px;height:65px;background:#000"></div>
<div style="left:127px;top:3px;width:96px;height:1px;background:#000"></div>
<div style="left:127px;top:67px;width:96px;height:1px;background:#000"></div>
<div style="left:127px;top:3px;width:1px;height:65px;background:#000"></div>
<div style="left:222px;top:3px;width:1px;height:65px;background:#000"></div>
<div style="left:222px;top:3px;width:64px;height:1px;background:#000"></div>
<div style="left:222px;top:67px;width:64px;height:1px;background:#000"></div>
<div style="left:222px;top:3px;width:1px;height:65px;background:#000"></div>
<div style="left:285px;top:3px;width:1px;height:65px;background:#000"></div>
<div style="left:285px;top:3px;width:384px;height:1px;background:#000"></div>
<div style="left:285px;top:34px;width:384px;height:1px;background:#000"></div>
<div style="left:285px;top:3px;width:1px;height:32px;background:#000"></div>
<div style="left:668px;top:3px;width:1px;height:32px;background:#000"></div>
<div style="left:285px;top:34px;width:75px;height:1px;background:#000"></div>
<div style="left:285px;top:67px;width:75px;height:1px;background:#000"></div>
<div style="left:285px;top:34px;width:1px;height:34px;background:#000"></div>
<div style="left:359px;top:34px;width:1px;height:34px;background:#000"></div>
<div style="left:359px;top:34px;width:76px;height:1px;background:#000"></div>
<div style="left:359px;top:67px;width:76px;height:1px;background:#000"></div>
<div style="left:359px;top:34px;width:1px;height:34px;background:#000"></div>
<div style="left:434px;top:34px;width:1px;height:34px;background:#000"></div>
<div style="left:434px;top:34px;width:77px;height:1px;background:#000"></div>
<div style="left:434px;top:67px;width:77px;height:1px;background:#000"></div>
<div style="left:434px;top:34px;width:1px;height:34px;background:#000"></div>
<div style="left:510px;top:34px;width:1px;height:34px;background:#000"></div>
<div style="left:510px;top:34px;width:77px;height:1px;background:#000"></div>
<div style="left:510px;top:67px;width:77px;height:1px;background:#000"></div>
<div style="left:510px;top:34px;width:1px;height:34px;background:#000"></div>
<div style="left:586px;top:34px;width:1px;height:34px;background:#000"></div>
<div style="left:586px;top:34px;width:83px;height:1px;background:#000"></div>
<div style="left:586px;top:67px;width:83px;height:1px;background:#000"></div>
<div style="left:586px;top:34px;width:1px;height:34px;background:#000"></div>
<div style="left:668px;top:34px;width:1px;height:34px;background:#000"></div>
<div style="left:4px;top:67px;width:219px;height:1px;background:#000"></div>
<div style="left:4px;top:100px;width:219px;height:1px;background:#000"></div>
<div style="left:4px;top:67px;width:1px;height:34px;background:#000"></div>
<div style="left:222px;top:67px;width:1px;height:34px;background:#000"></div>
<div style="left:222px;top:67px;width:64px;height:1px;background:#000"></div>
<div style="left:222px;top:100px;width:64px;height:1px;background:#000"></div>
<div style="left:222px;top:67px;width:1px;height:34px;background:#000"></div>
<div style="left:285px;top:67px;width:1px;height:34px;background:#000"></div>
<div style="left:285px;top:67px;width:384px;height:1px;background:#000"></div>
<div style="left:285px;top:100px;width:384px;height:1px;background:#000"></div>
<div style="left:285px;top:67px;width:1px;height:34px;background:#000"></div>
<div style="left:668px;top:67px;width:1px;height:34px;background:#000"></div>
<div style="left:4px;top:100px;width:219px;height:1px;background:#000"></div>
<div style="left:4px;top:133px;width:219px;height:1px;background:#000"></div>
<div style="left:4px;top:100px;width:1px;height:34px;background:#000"></div>
<div style="left:222px;top:100px;width:1px;height:34px;background:#000"></div>
<div style="left:222px;top:100px;width:64px;height:1px;background:#000"></div>
<div style="left:222px;top:133px;width:64px;height:1px;background:#000"></div>
<div style="left:222px;top:100px;width:1px;height:34px;background:#000"></div>
<div style="left:285px;top:100px;width:1px;height:34px;background:#000"></div>
<div style="left:285px;top:100px;width:384px;height:1px;background:#000"></div>
<div style="left:285px;top:133px;width:384px;height:1px;background:#000"></div>
<div style="left:285px;top:100px;width:1px;height:34px;background:#000"></div>
<div style="left:668px;top:100px;width:1px;height:34px;background:#000"></div>
<div style="left:4px;top:133px;width:219px;height:1px;background:#000"></div>
<div style="left:4px;top:166px;width:219px;height:1px;background:#000"></div>
<div style="left:4px;top:133px;width:1px;height:34px;background:#000"></div>
<div style="left:222px;top:133px;width:1px;height:34px;background:#000"></div>
<div style="left:222px;top:133px;width:64px;height:1px;background:#000"></div>
<div style="left:222px;top:166px;width:64px;height:1px;background:#000"></div>
<div style="left:222px;top:133px;width:1px;height:34px;background:#000"></div>
<div style="left:285px;top:133px;width:1px;height:34px;background:#000"></div>
<div style="left:285px;top:133px;width:384px;height:1px;background:#000"></div>
<div style="left:285px;top:166px;width:384px;height:1px;background:#000"></div>
<div style="left:285px;top:133px;width:1px;height:34px;background:#000"></div>
<div style="left:668px;top:133px;width:1px;height:34px;background:#000"></div>
<div style="left:4px;top:166px;width:219px;height:1px;background:#000"></div>
<div style="left:4px;top:199px;width:219px;height:1px;background:#000"></div>
<div style="left:4px;top:166px;width:1px;height:34px;background:#000"></div>
<div style="left:222px;top:166px;width:1px;height:34px;background:#000"></div>
<div style="left:222px;top:166px;width:64px;height:1px;background:#000"></div>
<div style="left:222px;top:199px;width:64px;height:1px;background:#000"></div>
<div style="left:222px;top:166px;width:1px;height:34px;background:#000"></div>
<div style="left:285px;top:166px;width:1px;height:34px;background:#000"></div>
<div style="left:285px;top:166px;width:75px;height:1px;background:#000"></div>
<div style="left:285px;top:199px;width:75px;height:1px;background:#000"></div>
<div style="left:285px;top:166px;width:1px;height:34px;background:#000"></div>
<div style="left:359px;top:166px;width:1px;height:34px;background:#000"></div>
<div style="left:359px;top:166px;width:76px;height:1px;background:#000"></div>
<div style="left:359px;top:199px;width:76px;height:1px;background:#000"></div>
<div style="left:359px;top:166px;width:1px;height:34px;background:#000"></div>
<div style="left:434px;top:166px;width:1px;height:34px;background:#000"></div>
<div style="left:434px;top:166px;width:77px;height:1px;background:#000"></div>
<div style="left:434px;top:199px;width:77px;height:1px;background:#000"></div>
<div style="left:434px;top:166px;width:1px;height:34px;background:#000"></div>
<div style="left:510px;top:166px;width:1px;height:34px;background:#000"></div>
<div style="left:510px;top:166px;width:77px;height:1px;background:#000"></div>
<div style="left:510px;top:199px;width:77px;height:1px;background:#000"></div>
<div style="left:510px;top:166px;width:1px;height:34px;background:#000"></div>
<div style="left:586px;top:166px;width:1px;height:34px;background:#000"></div>
<div style="left:586px;top:166px;width:83px;height:1px;background:#000"></div>
<div style="left:586px;top:199px;width:83px;height:1px;background:#000"></div>
<div style="left:586px;top:166px;width:1px;height:34px;background:#000"></div>
<div style="left:668px;top:166px;width:1px;height:34px;background:#000"></div>
<div style="left:4px;top:199px;width:124px;height:1px;background:#000"></div>
<div style="left:4px;top:298px;width:124px;height:1px;background:#000"></div>
<div style="left:4px;top:199px;width:1px;height:100px;background:#000"></div>
<div style="left:127px;top:199px;width:1px;height:100px;background:#000"></div>
<div style="left:127px;top:199px;width:96px;height:1px;background:#000"></div>
<div style="left:127px;top:232px;width:96px;height:1px;background:#000"></div>
<div style="left:127px;top:199px;width:1px;height:34px;background:#000"></div>
<div style="left:222px;top:199px;width:1px;height:34px;background:#000"></div>
<div style="left:222px;top:199px;width:64px;height:1px;background:#000"></div>
<div style="left:222px;top:232px;width:64px;height:1px;background:#000"></div>
<div style="left:222px;top:199px;width:1px;height:34px;background:#000"></div>
<div style="left:285px;top:199px;width:1px;height:34px;background:#000"></div>
<div style="left:285px;top:199px;width:75px;height:1px;background:#000"></div>
<div style="left:285px;top:232px;width:75px;height:1px;background:#000"></div>
<div style="left:285px;top:199px;width:1px;height:34px;background:#000"></div>
<div style="left:359px;top:199px;width:1px;height:34px;background:#000"></div>
<div style="left:359px;top:199px;width:76px;height:1px;background:#000"></div>
<div style="left:359px;top:232px;width:76px;height:1px;background:#000"></div>
<div style="left:359px;top:199px;width:1px;height:34px;background:#000"></div>
<div style="left:434px;top:199px;width:1px;height:34px;background:#000"></div>
<div style="left:434px;top:199px;width:77px;height:1px;background:#000"></div>
<div style="left:434px;top:232px;width:77px;height:1px;background:#000"></div>
<div style="left:434px;top:199px;width:1px;height:34px;background:#000"></div>
<div style="left:510px;top:199px;width:1px;height:34px;background:#000"></div>
<div style="left:510px;top:199px;width:77px;height:1px;background:#000"></div>
<div style="left:510px;top:232px;width:77px;height:1px;background:#000"></div>
<div style="left:510px;top:199px;width:1px;height:34px;background:#000"></div>
<div style="left:586px;top:199px;width:1px;height:34px;background:#000"></div>
<div style="left:586px;top:199px;width:83px;height:1px;background:#000"></div>
<div style="left:586px;top:232px;width:83px;height:1px;background:#000"></div>
<div style="left:586px;top:199px;width:1px;height:34px;background:#000"></div>
<div style="left:668px;top:199px;width:1px;height:34px;background:#000"></div>
<div style="left:127px;top:232px;width:96px;height:1px;background:#000"></div>
<div style="left:127px;top:265px;width:96px;height:1px;background:#000"></div>
<div style="left:127px;top:232px;width:1px;height:34px;background:#000"></div>
<div style="left:222px;top:232px;width:1px;height:34px;background:#000"></div>
<div style="left:222px;top:232px;width:64px;height:1px;background:#000"></div>
<div style="left:222px;top:265px;width:64px;height:1px;background:#000"></div>
<div style="left:222px;top:232px;width:1px;height:34px;background:#000"></div>
<div style="left:285px;top:232px;width:1px;height:34px;background:#000"></div>
<div style="left:285px;top:232px;width:384px;height:1px;background:#000"></div>
<div style="left:285px;top:265px;width:384px;height:1px;background:#000"></div>
<div style="left:285px;top:232px;width:1px;height:34px;background:#000"></div>
<div style="left:668px;top:232px;width:1px;height:34px;background:#000"></div>
<div style="left:127px;top:265px;width:96px;height:1px;background:#000"></div>
<div style="left:127px;top:298px;width:96px;height:1px;background:#000"></div>
<div style="left:127px;top:265px;width:1px;height:34px;background:#000"></div>
<div style="left:222px;top:265px;width:1px;height:34px;background:#000"></div>
<div style="left:222px;top:265px;width:64px;height:1px;background:#000"></div>
<div style="left:222px;top:298px;width:64px;height:1px;background:#000"></div>
<div style="left:222px;top:265px;width:1px;height:34px;background:#000"></div>
<div style="left:285px;top:265px;width:1px;height:34px;background:#000"></div>
<div style="left:285px;top:265px;width:75px;height:1px;background:#000"></div>
<div style="left:285px;top:298px;width:75px;height:1px;background:#000"></div>
<div style="left:285px;top:265px;width:1px;height:34px;background:#000"></div>
<div style="left:359px;top:265px;width:1px;height:34px;background:#000"></div>
<div style="left:359px;top:265px;width:76px;height:1px;background:#000"></div>
<div style="left:359px;top:298px;width:76px;height:1px;background:#000"></div>
<div style="left:359px;top:265px;width:1px;height:34px;background:#000"></div>
<div style="left:434px;top:265px;width:1px;height:34px;background:#000"></div>
<div style="left:434px;top:265px;width:77px;height:1px;background:#000"></div>
<div style="left:434px;top:298px;width:77px;height:1px;background:#000"></div>
<div style="left:434px;top:265px;width:1px;height:34px;background:#000"></div>
<div style="left:510px;top:265px;width:1px;height:34px;background:#000"></div>
<div style="left:510px;top:265px;width:77px;height:1px;background:#000"></div>
<div style="left:510px;top:298px;width:77px;height:1px;background:#000"></div>
<div style="left:510px;top:265px;width:1px;height:34px;background:#000"></div>
<div style="left:586px;top:265px;width:1px;height:34px;background:#000"></div>
<div style="left:586px;top:265px;width:83px;height:1px;background:#000"></div>
<div style="left:586px;top:298px;width:83px;height:1px;background:#000"></div>
<div style="left:586px;top:265px;width:1px;height:34px;background:#000"></div>
<div style="left:668px;top:265px;width:1px;height:34px;background:#000"></div>
<div style="left:4px;top:298px;width:219px;height:1px;background:#000"></div>
<div style="left:4px;top:331px;width:219px;height:1px;background:#000"></div>
<div style="left:4px;top:298px;width:1px;height:34px;background:#000"></div>
<div style="left:222px;top:298px;width:1px;height:34px;background:#000"></div>
<div style="left:222px;top:298px;width:447px;height:1px;background:#000"></div>
<div style="left:222px;top:331px;width:447px;height:1px;background:#000"></div>
<div style="left:222px;top:298px;width:1px;height:34px;background:#000"></div>
<div style="left:668px;top:298px;width:1px;height:34px;background:#000"></div>
<div style="left:4px;top:331px;width:124px;height:1px;background:#000"></div>
<div style="left:4px;top:397px;width:124px;height:1px;background:#000"></div>
<div style="left:4px;top:331px;width:1px;height:67px;background:#000"></div>
<div style="left:127px;top:331px;width:1px;height:67px;background:#000"></div>
<div style="left:127px;top:331px;width:96px;height:1px;background:#000"></div>
<div style="left:127px;top:364px;width:96px;height:1px;background:#000"></div>
<div style="left:127px;top:331px;width:1px;height:34px;background:#000"></div>
<div style="left:222px;top:331px;width:1px;height:34px;background:#000"></div>
<div style="left:222px;top:331px;width:64px;height:1px;background:#000"></div>
<div style="left:222px;top:364px;width:64px;height:1px;background:#000"></div>
<div style="left:222px;top:331px;width:1px;height:34px;background:#000"></div>
<div style="left:285px;top:331px;width:1px;height:34px;background:#000"></div>
<div style="left:285px;top:331px;width:75px;height:1px;background:#000"></div>
<div style="left:285px;top:364px;width:75px;height:1px;background:#000"></div>
<div style="left:285px;top:331px;width:1px;height:34px;background:#000"></div>
<div style="left:359px;top:331px;width:1px;height:34px;background:#000"></div>
<div style="left:359px;top:331px;width:76px;height:1px;background:#000"></div>
<div style="left:359px;top:364px;width:76px;height:1px;background:#000"></div>
<div style="left:359px;top:331px;width:1px;height:34px;background:#000"></div>
<div style="left:434px;top:331px;width:1px;height:34px;background:#000"></div>
<div style="left:434px;top:331px;width:77px;height:1px;background:#000"></div>
<div style="left:434px;top:364px;width:77px;height:1px;background:#000"></div>
<div style="left:434px;top:331px;width:1px;height:34px;background:#000"></div>
<div style="left:510px;top:331px;width:1px;height:34px;background:#000"></div>
<div style="left:510px;top:331px;width:77px;height:1px;background:#000"></div>
<div style="left:510px;top:364px;width:77px;height:1px;background:#000"></div>
<div style="left:510px;top:331px;width:1px;height:34px;background:#000"></div>
<div style="left:586px;top:331px;width:1px;height:34px;background:#000"></div>
<div style="left:586px;top:331px;width:83px;height:1px;background:#000"></div>
<div style="left:586px;top:364px;width:83px;height:1px;background:#000"></div>
<div style="left:586px;top:331px;width:1px;height:34px;background:#000"></div>
<div style="left:668px;top:331px;width:1px;height:34px;background:#000"></div>
<div style="left:127px;top:364px;width:96px;height:1px;background:#000"></div>
<div style="left:127px;top:397px;width:96px;height:1px;background:#000"></div>
<div style="left:127px;top:364px;width:1px;height:34px;background:#000"></div>
<div style="left:222px;top:364px;width:1px;height:34px;background:#000"></div>
<div style="left:222px;top:364px;width:64px;height:1px;background:#000"></div>
<div style="left:222px;top:397px;width:64px;height:1px;background:#000"></div>
<div style="left:222px;top:364px;width:1px;height:34px;background:#000"></div>
<div style="left:285px;top:364px;width:1px;height:34px;background:#000"></div>
<div style="left:285px;top:364px;width:75px;height:1px;background:#000"></div>
<div style="left:285px;top:397px;width:75px;height:1px;background:#000"></div>
<div style="left:285px;top:364px;width:1px;height:34px;background:#000"></div>
<div style="left:359px;top:364px;width:1px;height:34px;background:#000"></div>
<div style="left:359px;top:364px;width:76px;height:1px;background:#000"></div>
<div style="left:359px;top:397px;width:76px;height:1px;background:#000"></div>
<div style="left:359px;top:364px;width:1px;height:34px;background:#000"></div>
<div style="left:434px;top:364px;width:1px;height:34px;background:#000"></div>
<div style="left:434px;top:364px;width:77px;height:1px;background:#000"></div>
<div style="left:434px;top:397px;width:77px;height:1px;background:#000"></div>
<div style="left:434px;top:364px;width:1px;height:34px;background:#000"></div>
<div style="left:510px;top:364px;width:1px;height:34px;background:#000"></div>
<div style="left:510px;top:364px;width:77px;height:1px;background:#000"></div>
<div style="left:510px;top:397px;width:77px;height:1px;background:#000"></div>
<div style="left:510px;top:364px;width:1px;height:34px;background:#000"></div>
<div style="left:586px;top:364px;width:1px;height:34px;background:#000"></div>
<div style="left:586px;top:364px;width:83px;height:1px;background:#000"></div>
<div style="left:586px;top:397px;width:83px;height:1px;background:#000"></div>
<div style="left:586px;top:364px;width:1px;height:34px;background:#000"></div>
<div style="left:668px;top:364px;width:1px;height:34px;background:#000"></div>
<div style="left:4px;top:397px;width:219px;height:1px;background:#000"></div>
<div style="left:4px;top:430px;width:219px;height:1px;background:#000"></div>
<div style="left:4px;top:397px;width:1px;height:34px;background:#000"></div>
<div style="left:222px;top:397px;width:1px;height:34px;background:#000"></div>
<div style="left:222px;top:397px;width:64px;height:1px;background:#000"></div>
<div style="left:222px;top:430px;width:64px;height:1px;background:#000"></div>
<div style="left:222px;top:397px;width:1px;height:34px;background:#000"></div>
<div style="left:285px;top:397px;width:1px;height:34px;background:#000"></div>
<div style="left:285px;top:397px;width:384px;height:1px;background:#000"></div>
<div style="left:285px;top:430px;width:384px;height:1px;background:#000"></div>
<div style="left:285px;top:397px;width:1px;height:34px;background:#000"></div>
<div style="left:668px;top:397px;width:1px;height:34px;background:#000"></div>
<div style="left:4px;top:430px;width:219px;height:1px;background:#000"></div>
<div style="left:4px;top:529px;width:219px;height:1px;background:#000"></div>
<div style="left:4px;top:430px;width:1px;height:100px;background:#000"></div>
<div style="left:222px;top:430px;width:1px;height:100px;background:#000"></div>
<div style="left:222px;top:430px;width:64px;height:1px;background:#000"></div>
<div style="left:222px;top:463px;width:64px;height:1px;background:#000"></div>
<div style="left:222px;top:430px;width:1px;height:34px;background:#000"></div>
<div style="left:285px;top:430px;width:1px;height:34px;background:#000"></div>
<div style="left:285px;top:430px;width:75px;height:1px;background:#000"></div>
<div style="left:285px;top:463px;width:75px;height:1px;background:#000"></div>
<div style="left:285px;top:430px;width:1px;height:34px;background:#000"></div>
<div style="left:359px;top:430px;width:1px;height:34px;background:#000"></div>
<div style="left:359px;top:430px;width:76px;height:1px;background:#000"></div>
<div style="left:359px;top:463px;width:76px;height:1px;background:#000"></div>
<div style="left:359px;top:430px;width:1px;height:34px;background:#000"></div>
<div style="left:434px;top:430px;width:1px;height:34px;background:#000"></div>
<div style="left:434px;top:430px;width:77px;height:1px;background:#000"></div>
<div style="left:434px;top:463px;width:77px;height:1px;background:#000"></div>
<div style="left:434px;top:430px;width:1px;height:34px;background:#000"></div>
<div style="left:510px;top:430px;width:1px;height:34px;background:#000"></div>
<div style="left:510px;top:430px;width:77px;height:1px;background:#000"></div>
<div style="left:510px;top:463px;width:77px;height:1px;background:#000"></div>
<div style="left:510px;top:430px;width:1px;height:34px;background:#000"></div>
<div style="left:586px;top:430px;width:1px;height:34px;background:#000"></div>
<div style="left:586px;top:430px;width:83px;height:1px;background:#000"></div>
<div style="left:586px;top:463px;width:83px;height:1px;background:#000"></div>
<div style="left:586px;top:430px;width:1px;height:34px;background:#000"></div>
<div style="left:668px;top:430px;width:1px;height:34px;background:#000"></div>
<div style="left:222px;top:463px;width:64px;height:1px;background:#000"></div>
<div style="left:222px;top:496px;width:64px;height:1px;background:#000"></div>
<div style="left:222px;top:463px;width:1px;height:34px;background:#000"></div>
<div style="left:285px;top:463px;width:1px;height:34px;background:#000"></div>
<div style="left:285px;top:463px;width:75px;height:1px;background:#000"></div>
<div style="left:285px;top:496px;width:75px;height:1px;background:#000"></div>
<div style="left:285px;top:463px;width:1px;height:34px;background:#000"></div>
<div style="left:359px;top:463px;width:1px;height:34px;background:#000"></div>
<div style="left:359px;top:463px;width:76px;height:1px;background:#000"></div>
<div style="left:359px;top:496px;width:76px;height:1px;background:#000"></div>
<div style="left:359px;top:463px;width:1px;height:34px;background:#000"></div>
<div style="left:434px;top:463px;width:1px;height:34px;background:#000"></div>
<div style="left:434px;top:463px;width:77px;height:1px;background:#000"></div>
<div style="left:434px;top:496px;width:77px;height:1px;background:#000"></div>
<div style="left:434px;top:463px;width:1px;height:34px;background:#000"></div>
<div style="left:510px;top:463px;width:1px;height:34px;background:#000"></div>
<div style="left:510px;top:463px;width:77px;height:1px;background:#000"></div>
<div style="left:510px;top:496px;width:77px;height:1px;background:#000"></div>
<div style="left:510px;top:463px;width:1px;height:34px;background:#000"></div>
<div style="left:586px;top:463px;width:1px;height:34px;background:#000"></div>
<div style="left:586px;top:463px;width:83px;height:1px;background:#000"></div>
<div style="left:586px;top:496px;width:83px;height:1px;background:#000"></div>
<div style="left:586px;top:463px;width:1px;height:34px;background:#000"></div>
<div style="left:668px;top:463px;width:1px;height:34px;background:#000"></div>
<div style="left:222px;top:496px;width:64px;height:1px;background:#000"></div>
<div style="left:222px;top:529px;width:64px;height:1px;background:#000"></div>
<div style="left:222px;top:496px;width:1px;height:34px;background:#000"></div>
<div style="left:285px;top:496px;width:1px;height:34px;background:#000"></div>
<div style="left:285px;top:496px;width:75px;height:1px;background:#000"></div>
<div style="left:285px;top:529px;width:75px;height:1px;background:#000"></div>
<div style="left:285px;top:496px;width:1px;height:34px;background:#000"></div>
<div style="left:359px;top:496px;width:1px;height:34px;background:#000"></div>
<div style="left:359px;top:496px;width:76px;height:1px;background:#000"></div>
<div style="left:359px;top:529px;width:76px;height:1px;background:#000"></div>
<div style="left:359px;top:496px;width:1px;height:34px;background:#000"></div>
<div style="left:434px;top:496px;width:1px;height:34px;background:#000"></div>
<div style="left:434px;top:496px;width:77px;height:1px;background:#000"></div>
<div style="left:434px;top:529px;width:77px;height:1px;background:#000"></div>
<div style="left:434px;top:496px;width:1px;height:34px;background:#000"></div>
<div style="left:510px;top:496px;width:1px;height:34px;background:#000"></div>
<div style="left:510px;top:496px;width:77px;height:1px;background:#000"></div>
<div style="left:510px;top:529px;width:77px;height:1px;background:#000"></div>
<div style="left:510px;top:496px;width:1px;height:34px;background:#000"></div>
<div style="left:586px;top:496px;width:1px;height:34px;background:#000"></div>
<div style="left:586px;top:496px;width:83px;height:1px;background:#000"></div>
<div style="left:586px;top:529px;width:83px;height:1px;background:#000"></div>
<div style="left:586px;top:496px;width:1px;height:34px;background:#000"></div>
<div style="left:668px;top:496px;width:1px;height:34px;background:#000"></div>
<div style="left:4px;top:529px;width:219px;height:1px;background:#000"></div>
<div style="left:4px;top:562px;width:219px;height:1px;background:#000"></div>
<div style="left:4px;top:529px;width:1px;height:34px;background:#000"></div>
<div style="left:222px;top:529px;width:1px;height:34px;background:#000"></div>
<div style="left:222px;top:529px;width:64px;height:1px;background:#000"></div>
<div style="left:222px;top:562px;width:64px;height:1px;background:#000"></div>
<div style="left:222px;top:529px;width:1px;height:34px;background:#000"></div>
<div style="left:285px;top:529px;width:1px;height:34px;background:#000"></div>
<div style="left:285px;top:529px;width:75px;height:1px;background:#000"></div>
<div style="left:285px;top:562px;width:75px;height:1px;background:#000"></div>
<div style="left:285px;top:529px;width:1px;height:34px;background:#000"></div>
<div style="left:359px;top:529px;width:1px;height:34px;background:#000"></div>
<div style="left:359px;top:529px;width:76px;height:1px;background:#000"></div>
<div style="left:359px;top:562px;width:76px;height:1px;background:#000"></div>
<div style="left:359px;top:529px;width:1px;height:34px;background:#000"></div>
<div style="left:434px;top:529px;width:1px;height:34px;background:#000"></div>
<div style="left:434px;top:529px;width:77px;height:1px;background:#000"></div>
<div style="left:434px;top:562px;width:77px;height:1px;background:#000"></div>
<div style="left:434px;top:529px;width:1px;height:34px;background:#000"></div>
<div style="left:510px;top:529px;width:1px;height:34px;background:#000"></div>
<div style="left:510px;top:529px;width:77px;height:1px;background:#000"></div>
<div style="left:510px;top:562px;width:77px;height:1px;background:#000"></div>
<div style="left:510px;top:529px;width:1px;height:34px;background:#000"></div>
<div style="left:586px;top:529px;width:1px;height:34px;background:#000"></div>
<div style="left:586px;top:529px;width:83px;height:1px;background:#000"></div>
<div style="left:586px;top:562px;width:83px;height:1px;background:#000"></div>
<div style="left:586px;top:529px;width:1px;height:34px;background:#000"></div>
<div style="left:668px;top:529px;width:1px;height:34px;background:#000"></div>
<div style="left:4px;top:3px;width:665px;height:2px;background:#000"></div>
<div style="left:4px;top:561px;width:665px;height:2px;background:#000"></div>
<div style="left:4px;top:3px;width:2px;height:560px;background:#000"></div>
<div style="left:667px;top:3px;width:2px;height:560px;background:#000"></div>
</body></html>
